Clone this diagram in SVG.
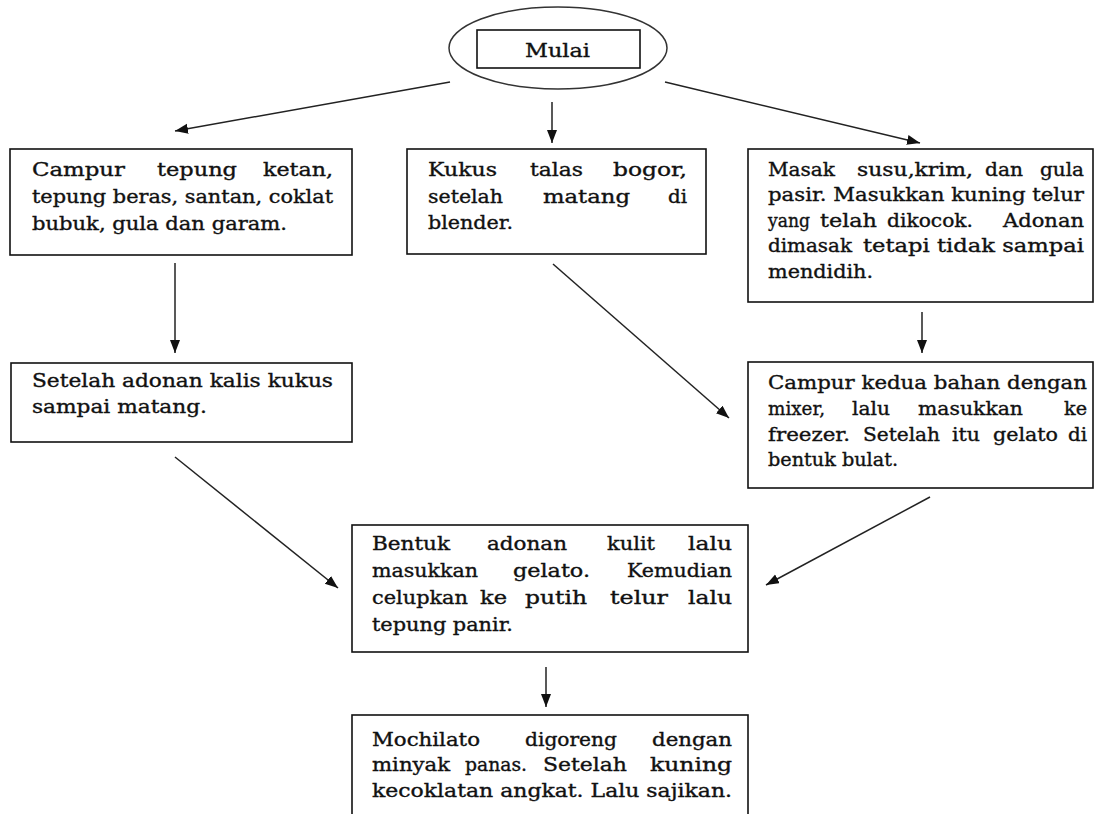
<svg xmlns="http://www.w3.org/2000/svg" width="1094" height="814" viewBox="0 0 1094 814">
<style>
.box{fill:#fff;stroke:#111;stroke-width:1.6}
.t{font-family:"DejaVu Serif","Liberation Serif",serif;font-size:18px;fill:#111;stroke:#111;stroke-width:0.35}
.c{stroke:#222;stroke-width:1.5;fill:none;marker-end:url(#ah)}
</style>
<defs>
<marker id="ah" markerUnits="userSpaceOnUse" markerWidth="14" markerHeight="12" refX="13" refY="5" orient="auto">
<path d="M0,0 L13,5 L0,10 z" fill="#111"/>
</marker>
</defs>
<rect width="1094" height="814" fill="#fff"/>

<g id="connectors">
<line class="c" x1="450" y1="82" x2="175" y2="131"/>
<line class="c" x1="552" y1="102" x2="552" y2="143"/>
<line class="c" x1="665" y1="82" x2="920" y2="143"/>
<line class="c" x1="175" y1="263" x2="175" y2="353"/>
<line class="c" x1="553" y1="264" x2="729" y2="418"/>
<line class="c" x1="922" y1="312" x2="922" y2="353"/>
<line class="c" x1="175" y1="457" x2="338" y2="588"/>
<line class="c" x1="930" y1="497" x2="766" y2="585"/>
<line class="c" x1="546" y1="667" x2="546" y2="707"/>
</g>

<g id="start">
<ellipse cx="558" cy="48" rx="109" ry="41" fill="#fff" stroke="#333" stroke-width="1.5"/>
<rect class="box" x="477" y="30" width="163" height="38"/>
<text class="t" x="525" y="57" textLength="65" lengthAdjust="spacingAndGlyphs">Mulai</text>
</g>

<g id="box1">
<rect class="box" x="10" y="149" width="342" height="106"/>
<text class="t" x="32" y="176" textLength="93" lengthAdjust="spacingAndGlyphs">Campur</text>
<text class="t" x="157" y="176" textLength="80" lengthAdjust="spacingAndGlyphs">tepung</text>
<text class="t" x="263" y="176" textLength="70" lengthAdjust="spacingAndGlyphs">ketan,</text>
<text class="t" x="32" y="203" textLength="301" lengthAdjust="spacingAndGlyphs">tepung beras, santan, coklat</text>
<text class="t" x="32" y="230" textLength="255" lengthAdjust="spacingAndGlyphs">bubuk, gula dan garam.</text>
</g>

<g id="box2">
<rect class="box" x="407" y="149" width="299" height="105"/>
<text class="t" x="428" y="176" textLength="69" lengthAdjust="spacingAndGlyphs">Kukus</text>
<text class="t" x="530" y="176" textLength="53" lengthAdjust="spacingAndGlyphs">talas</text>
<text class="t" x="613" y="176" textLength="74" lengthAdjust="spacingAndGlyphs">bogor,</text>
<text class="t" x="428" y="203" textLength="75" lengthAdjust="spacingAndGlyphs">setelah</text>
<text class="t" x="543" y="203" textLength="87" lengthAdjust="spacingAndGlyphs">matang</text>
<text class="t" x="668" y="203" textLength="19" lengthAdjust="spacingAndGlyphs">di</text>
<text class="t" x="428" y="229" textLength="85" lengthAdjust="spacingAndGlyphs">blender.</text>
</g>

<g id="box3">
<rect class="box" x="748" y="149" width="345" height="153"/>
<text class="t" x="768" y="176" textLength="67" lengthAdjust="spacingAndGlyphs">Masak</text>
<text class="t" x="857" y="176" textLength="116" lengthAdjust="spacingAndGlyphs">susu,krim,</text>
<text class="t" x="985" y="176" textLength="38" lengthAdjust="spacingAndGlyphs">dan</text>
<text class="t" x="1040" y="176" textLength="44" lengthAdjust="spacingAndGlyphs">gula</text>
<text class="t" x="768" y="201" textLength="316" lengthAdjust="spacingAndGlyphs">pasir. Masukkan kuning telur</text>
<text class="t" x="768" y="227" textLength="42" lengthAdjust="spacingAndGlyphs">yang</text>
<text class="t" x="820" y="227" textLength="57" lengthAdjust="spacingAndGlyphs">telah</text>
<text class="t" x="887" y="227" textLength="86" lengthAdjust="spacingAndGlyphs">dikocok.</text>
<text class="t" x="1003" y="227" textLength="81" lengthAdjust="spacingAndGlyphs">Adonan</text>
<text class="t" x="768" y="252" textLength="84" lengthAdjust="spacingAndGlyphs">dimasak</text>
<text class="t" x="863" y="252" textLength="221" lengthAdjust="spacingAndGlyphs">tetapi tidak sampai</text>
<text class="t" x="768" y="278" textLength="105" lengthAdjust="spacingAndGlyphs">mendidih.</text>
</g>

<g id="box4">
<rect class="box" x="11" y="363" width="341" height="79"/>
<text class="t" x="32" y="387" textLength="301" lengthAdjust="spacingAndGlyphs">Setelah adonan kalis kukus</text>
<text class="t" x="32" y="413" textLength="175" lengthAdjust="spacingAndGlyphs">sampai matang.</text>
</g>

<g id="box5">
<rect class="box" x="748" y="362" width="345" height="126"/>
<text class="t" x="768" y="389" textLength="319" lengthAdjust="spacingAndGlyphs">Campur kedua bahan dengan</text>
<text class="t" x="768" y="415" textLength="57" lengthAdjust="spacingAndGlyphs">mixer,</text>
<text class="t" x="852" y="415" textLength="38" lengthAdjust="spacingAndGlyphs">lalu</text>
<text class="t" x="918" y="415" textLength="105" lengthAdjust="spacingAndGlyphs">masukkan</text>
<text class="t" x="1064" y="415" textLength="23" lengthAdjust="spacingAndGlyphs">ke</text>
<text class="t" x="768" y="441" textLength="82" lengthAdjust="spacingAndGlyphs">freezer.</text>
<text class="t" x="863" y="441" textLength="77" lengthAdjust="spacingAndGlyphs">Setelah</text>
<text class="t" x="952" y="441" textLength="28" lengthAdjust="spacingAndGlyphs">itu</text>
<text class="t" x="993" y="441" textLength="65" lengthAdjust="spacingAndGlyphs">gelato</text>
<text class="t" x="1068" y="441" textLength="19" lengthAdjust="spacingAndGlyphs">di</text>
<text class="t" x="768" y="466" textLength="130" lengthAdjust="spacingAndGlyphs">bentuk bulat.</text>
</g>

<g id="box6">
<rect class="box" x="352" y="525" width="396" height="127"/>
<text class="t" x="372" y="550" textLength="78" lengthAdjust="spacingAndGlyphs">Bentuk</text>
<text class="t" x="487" y="550" textLength="80" lengthAdjust="spacingAndGlyphs">adonan</text>
<text class="t" x="607" y="550" textLength="48" lengthAdjust="spacingAndGlyphs">kulit</text>
<text class="t" x="688" y="550" textLength="44" lengthAdjust="spacingAndGlyphs">lalu</text>
<text class="t" x="372" y="577" textLength="106" lengthAdjust="spacingAndGlyphs">masukkan</text>
<text class="t" x="513" y="577" textLength="77" lengthAdjust="spacingAndGlyphs">gelato.</text>
<text class="t" x="627" y="577" textLength="105" lengthAdjust="spacingAndGlyphs">Kemudian</text>
<text class="t" x="372" y="604" textLength="96" lengthAdjust="spacingAndGlyphs">celupkan</text>
<text class="t" x="480" y="604" textLength="27" lengthAdjust="spacingAndGlyphs">ke</text>
<text class="t" x="525" y="604" textLength="62" lengthAdjust="spacingAndGlyphs">putih</text>
<text class="t" x="610" y="604" textLength="58" lengthAdjust="spacingAndGlyphs">telur</text>
<text class="t" x="688" y="604" textLength="44" lengthAdjust="spacingAndGlyphs">lalu</text>
<text class="t" x="372" y="631" textLength="141" lengthAdjust="spacingAndGlyphs">tepung panir.</text>
</g>

<g id="box7">
<rect class="box" x="352" y="715" width="396" height="110"/>
<text class="t" x="372" y="746" textLength="108" lengthAdjust="spacingAndGlyphs">Mochilato</text>
<text class="t" x="525" y="746" textLength="92" lengthAdjust="spacingAndGlyphs">digoreng</text>
<text class="t" x="652" y="746" textLength="80" lengthAdjust="spacingAndGlyphs">dengan</text>
<text class="t" x="372" y="771" textLength="78" lengthAdjust="spacingAndGlyphs">minyak</text>
<text class="t" x="465" y="771" textLength="62" lengthAdjust="spacingAndGlyphs">panas.</text>
<text class="t" x="543" y="771" textLength="84" lengthAdjust="spacingAndGlyphs">Setelah</text>
<text class="t" x="650" y="771" textLength="82" lengthAdjust="spacingAndGlyphs">kuning</text>
<text class="t" x="372" y="797" textLength="360" lengthAdjust="spacingAndGlyphs">kecoklatan angkat. Lalu sajikan.</text>
</g>
</svg>
